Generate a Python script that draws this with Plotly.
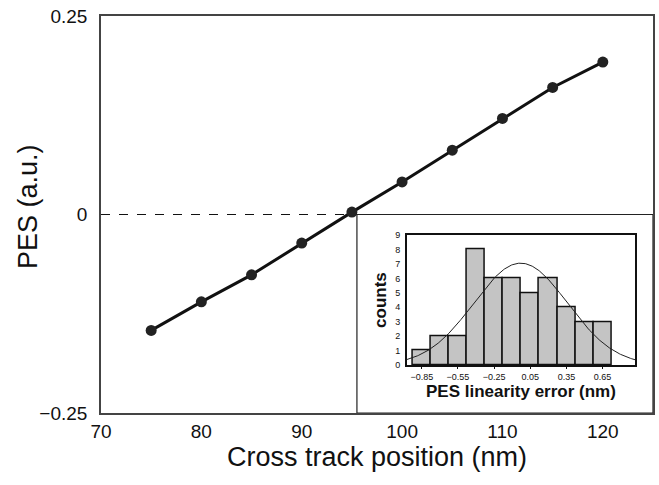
import numpy as np
import plotly.graph_objects as go

# Position error signal across the track
position_nm = [75, 80, 85, 90, 95, 100, 105, 110, 115, 120]
pes_au = [-0.146, -0.110, -0.076, -0.036, 0.003, 0.041, 0.081, 0.121, 0.160, 0.192]

# Histogram of the linearity error (inset)
error_bin_centers = [-0.85, -0.70, -0.55, -0.40, -0.25, -0.10, 0.05, 0.20, 0.35, 0.50, 0.65]
error_counts = [1, 2, 2, 8, 6, 6, 5, 6, 4, 3, 3]
error_tick_vals = [-0.85, -0.55, -0.25, 0.05, 0.35, 0.65]
bin_width = 0.15

# Normal fit to the error distribution
fit_mean = -0.03
fit_sigma = 0.39
inset_x_range = [-0.975, 0.92]

fit_x = np.linspace(inset_x_range[0], inset_x_range[1], 300)
fit_scale = sum(error_counts) * bin_width / (fit_sigma * np.sqrt(2 * np.pi))
fit_y = fit_scale * np.exp(-0.5 * ((fit_x - fit_mean) / fit_sigma) ** 2)

SANS = "Liberation Sans, Arial, sans-serif"

fig = go.Figure()

fig.add_trace(go.Scatter(
    x=position_nm, y=pes_au, mode="lines+markers",
    line=dict(color="#111111", width=3),
    marker=dict(color="#222222", size=11),
    showlegend=False, xaxis="x", yaxis="y",
))

fig.add_trace(go.Bar(
    x=error_bin_centers, y=error_counts, width=bin_width,
    marker=dict(color="#c4c4c4", line=dict(color="#111111", width=1.5)),
    showlegend=False, xaxis="x2", yaxis="y2",
))

fig.add_trace(go.Scatter(
    x=fit_x, y=fit_y, mode="lines",
    line=dict(color="#222222", width=1),
    showlegend=False, xaxis="x2", yaxis="y2",
))

inset_edge_x = 95.5

fig.update_layout(
    width=659, height=485,
    margin=dict(l=101, r=4, t=16, b=72),
    paper_bgcolor="white", plot_bgcolor="white",
    bargap=0,
    xaxis=dict(
        domain=[0, 1], range=[70, 125],
        tickvals=[70, 80, 90, 100, 110, 120],
        showgrid=False, zeroline=False, ticks="",
        showline=True, mirror=True, linecolor="#444444", linewidth=1.5,
        tickfont=dict(family=SANS, size=19, color="#111111"),
        title=dict(text="Cross track position (nm)", standoff=7,
                   font=dict(family=SANS, size=27, color="#111111")),
    ),
    yaxis=dict(
        domain=[0, 1], range=[-0.25, 0.25],
        tickvals=[-0.25, 0, 0.25], ticktext=["\u22120.25", "0", "0.25"],
        showgrid=False, zeroline=False, ticks="",
        showline=True, mirror=True, linecolor="#444444", linewidth=1.5,
        ticklabelstandoff=8,
        tickfont=dict(family=SANS, size=19, color="#111111"),
    ),
    xaxis2=dict(
        domain=[0.554, 0.9675], anchor="y2", range=inset_x_range,
        tickvals=error_tick_vals,
        ticktext=["\u22120.85", "\u22120.55", "\u22120.25", "0.05", "0.35", "0.65"],
        showgrid=False, zeroline=False, ticks="outside", ticklen=2,
        tickcolor="#111111",
        showline=True, mirror=True, linecolor="#111111", linewidth=1.5,
        tickfont=dict(family=SANS, size=9, color="#111111"),
        title=dict(text="<b>PES linearity error (nm)</b>", standoff=4,
                   font=dict(family=SANS, size=17, color="#111111")),
    ),
    yaxis2=dict(
        domain=[0.121, 0.448], anchor="x2", range=[0, 9],
        tickvals=list(range(10)),
        showgrid=False, zeroline=False, ticks="",
        showline=True, mirror=True, linecolor="#111111", linewidth=1.5,
        ticklabelstandoff=3,
        tickfont=dict(family=SANS, size=9, color="#111111"),
        title=dict(text="<b>counts</b>", standoff=4,
                   font=dict(family=SANS, size=17, color="#111111")),
    ),
    annotations=[
        dict(text="PES (a.u.)", textangle=-90, showarrow=False,
             xref="paper", yref="paper", x=-0.132, y=0.519,
             xanchor="center", yanchor="middle",
             font=dict(family=SANS, size=27, color="#111111")),
    ],
    shapes=[
        # zero reference line
        dict(type="line", xref="x", yref="y", x0=70, x1=inset_edge_x, y0=0, y1=0,
             line=dict(color="#111111", width=1, dash="dash"), layer="below"),
        # inset frame
        dict(type="rect", xref="x", yref="y", x0=inset_edge_x, x1=125, y0=-0.25, y1=0,
             fillcolor="white", line=dict(color="#222222", width=1.2), layer="below"),
    ],
)

fig.write_html("out.html")
